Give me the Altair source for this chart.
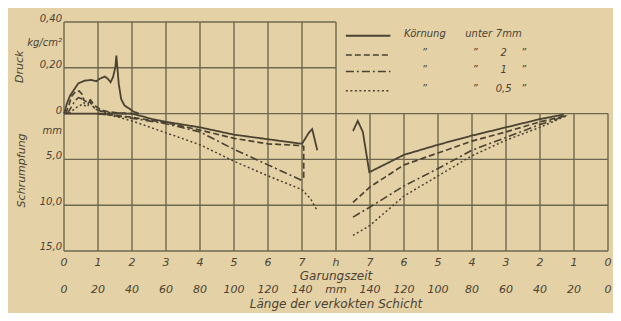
import altair as alt
import pandas as pd

# ---------------- data ----------------
# x-axis tick labels
hour_labels = ["0", "1", "2", "3", "4", "5", "6", "7", "h", "7", "6", "5", "4", "3", "2", "1", "0"]
length_labels = ["0", "20", "40", "60", "80", "100", "120", "140", "mm", "140", "120", "100", "80", "60", "40", "20", "0"]

# pressure axis (kg/cm2) and shrinkage axis (mm)
pressure_ticks = [0.40, 0.20, 0.0]
pressure_tick_text = ["0,40", "0,20", "0"]
shrink_ticks = [5.0, 10.0, 15.0]
shrink_tick_text = ["5,0", "10,0", "15,0"]

series_names = ["7 mm", "2 mm", "1 mm", "0,5 mm"]

# Druck (kg/cm2) over Garungszeit (h)
p_t_7 = [0.0, 0.03, 0.08, 0.18, 0.42, 0.61, 0.81, 0.95, 1.05, 1.20, 1.29, 1.37, 1.44, 1.51, 1.54, 1.57, 1.61, 1.68, 1.78, 1.93, 2.02, 2.2]
p_v_7 = [0.0, 0.013, 0.042, 0.079, 0.132, 0.144, 0.147, 0.141, 0.152, 0.162, 0.152, 0.137, 0.159, 0.202, 0.253, 0.202, 0.130, 0.064, 0.035, 0.021, 0.010, 0.0]
p_t_2 = [0.05, 0.15, 0.22, 0.35, 0.45, 0.53, 0.58, 0.68, 0.78, 0.85, 0.95, 1.1, 1.3, 1.6, 2.0]
p_v_2 = [0.0, 0.04, 0.075, 0.098, 0.098, 0.085, 0.06, 0.05, 0.06, 0.045, 0.03, 0.015, 0.008, 0.003, 0.0]
p_t_1 = [0.1, 0.2, 0.32, 0.42, 0.52, 0.6, 0.7, 0.76, 0.83, 0.92, 1.1, 1.4, 1.9]
p_v_1 = [0.0, 0.025, 0.055, 0.07, 0.065, 0.045, 0.04, 0.055, 0.035, 0.02, 0.01, 0.004, 0.0]
p_t_05 = [0.15, 0.3, 0.45, 0.55, 0.68, 0.78, 0.86, 1.0, 1.3, 1.8]
p_v_05 = [0.0, 0.02, 0.035, 0.04, 0.03, 0.05, 0.03, 0.012, 0.004, 0.0]

# Schrumpfung (mm), left half: over Garungszeit (h)
sl_t_7 = [0.0, 2.0, 2.6, 3.0, 4.0, 5.0, 6.0, 7.0, 7.2, 7.3, 7.45]
sl_v_7 = [0.0, 0.0, 0.6, 0.9, 1.5, 2.3, 2.8, 3.3, 2.1, 1.7, 4.0]
sl_t_2 = [1.0, 2.0, 3.0, 4.0, 5.0, 6.0, 7.0, 7.05, 7.05]
sl_v_2 = [0.0, 0.4, 1.0, 1.8, 2.7, 3.3, 3.5, 3.6, 7.0]
sl_t_1 = [1.0, 2.0, 3.0, 4.0, 5.0, 6.0, 7.0]
sl_v_1 = [0.0, 0.5, 1.1, 2.0, 3.9, 5.6, 7.3]
sl_t_05 = [1.2, 2.0, 3.0, 4.0, 5.0, 6.0, 7.0, 7.25, 7.45]
sl_v_05 = [0.0, 0.8, 2.1, 3.4, 5.2, 6.8, 8.3, 9.3, 10.6]

# Schrumpfung (mm), right half: over remaining Garungszeit (h, counting down)
sr_t_7 = [7.5, 7.36, 7.21, 7.02, 6.0, 5.0, 4.0, 3.0, 2.0, 1.3]
sr_v_7 = [1.9, 0.8, 2.0, 6.4, 4.5, 3.4, 2.4, 1.5, 0.6, 0.1]
sr_t_2 = [7.5, 7.0, 6.0, 5.0, 4.0, 3.0, 2.0, 1.2]
sr_v_2 = [9.7, 8.0, 5.6, 4.3, 3.0, 2.0, 0.9, 0.2]
sr_t_1 = [7.5, 7.0, 6.0, 5.0, 4.0, 3.0, 2.0, 1.2]
sr_v_1 = [11.3, 10.2, 7.9, 6.0, 4.0, 2.6, 1.2, 0.2]
sr_t_05 = [7.5, 7.0, 6.0, 5.0, 4.0, 3.0, 2.0, 1.2]
sr_v_05 = [13.3, 12.2, 9.0, 6.8, 4.6, 2.9, 1.5, 0.2]

# ---------------- build tables ----------------
P_SCALE = 25.0   # 0.40 kg/cm2 -> 10 plot units above the zero line
MID = 8          # column of "h"
END = 16

rows = []
def add(name, seg, xs, ys):
    for i, (a, b) in enumerate(zip(xs, ys)):
        rows.append({"s": name, "seg": seg, "o": i, "x": a, "y": b})

curves = [
    ("p", [p_t_7, p_t_2, p_t_1, p_t_05], [p_v_7, p_v_2, p_v_1, p_v_05]),
    ("l", [sl_t_7, sl_t_2, sl_t_1, sl_t_05], [sl_v_7, sl_v_2, sl_v_1, sl_v_05]),
    ("r", [sr_t_7, sr_t_2, sr_t_1, sr_t_05], [sr_v_7, sr_v_2, sr_v_1, sr_v_05]),
]
for part, ts, vs in curves:
    for name, t, v in zip(series_names, ts, vs):
        if part == "p":
            add(name, part + name, t, [-val * P_SCALE for val in v])
        elif part == "l":
            add(name, part + name, t, v)
        else:
            add(name, part + name, [END - a for a in t], v)
lines_df = pd.DataFrame(rows)

dash_range = [[1, 0], [6, 3], [8, 3, 2, 3], [2, 2.5]]
width_range = [1.8, 1.5, 1.5, 1.6]

ink = "#4a4232"
grid_col = "#6e6850"
bg = "#e5d1a6"
font = "DejaVu Sans"

xs = alt.Scale(domain=[0, END], nice=False, zero=False)
ys = alt.Scale(domain=[-10, 15], reverse=True, nice=False, zero=False)

def X():
    return alt.X("x:Q", scale=xs, axis=None)

def Y():
    return alt.Y("y:Q", scale=ys, axis=None)

# grid
grid_rows = []
for c in range(MID + 1):
    grid_rows.append({"x": c, "x2": c, "y": -10, "y2": 0})
for yv in [-10, -5]:
    grid_rows.append({"x": 0, "x2": MID, "y": yv, "y2": yv})
for c in range(END + 1):
    grid_rows.append({"x": c, "x2": c, "y": 0, "y2": 15})
for yv in [0, 5, 10, 15]:
    grid_rows.append({"x": 0, "x2": END, "y": yv, "y2": yv})
grid = alt.Chart(pd.DataFrame(grid_rows)).mark_rule(color=grid_col, strokeWidth=1.4).encode(
    x=X(), x2="x2:Q", y=Y(), y2="y2:Q")

dash_enc = alt.StrokeDash("s:N", scale=alt.Scale(domain=series_names, range=dash_range), legend=None)
width_enc = alt.StrokeWidth("s:N", scale=alt.Scale(domain=series_names, range=width_range), legend=None)

curves_chart = alt.Chart(lines_df).mark_line(color=ink, clip=False).encode(
    x=X(), y=Y(), detail="seg:N", order="o:Q", strokeDash=dash_enc, strokeWidth=width_enc)

# legend (samples + text)
leg_y = [-8.5, -6.4, -4.6, -2.5]
leg_rows = [{"s": n, "x": 8.29, "x2": 9.6, "y": yv} for n, yv in zip(series_names, leg_y)]
legend_lines = alt.Chart(pd.DataFrame(leg_rows)).mark_rule(color=ink).encode(
    x=X(), x2="x2:Q", y=Y(), strokeDash=dash_enc, strokeWidth=width_enc)

grain_sizes = ["7mm", "2", "1", "0,5"]
leg_left = [
    {"t": "Körnung", "x": 10.0, "y": -8.7},
    {"t": "unter", "x": 11.8, "y": -8.7},
    {"t": grain_sizes[0], "x": 12.7, "y": -8.7},
]
leg_center = []
for yv, g in zip(leg_y[1:], grain_sizes[1:]):
    leg_center += [
        {"t": "\u201d", "x": 10.6, "y": yv - 0.2},
        {"t": "\u201d", "x": 12.09, "y": yv - 0.2},
        {"t": g, "x": 12.93, "y": yv - 0.2},
        {"t": "\u201d", "x": 13.52, "y": yv - 0.2},
    ]
legend_text_l = alt.Chart(pd.DataFrame(leg_left)).mark_text(
    font=font, fontStyle="italic", fontSize=10, color=ink, baseline="middle", align="left"
).encode(x=X(), y=Y(), text="t:N")
legend_text_c = alt.Chart(pd.DataFrame(leg_center)).mark_text(
    font=font, fontStyle="italic", fontSize=10, color=ink, baseline="middle", align="center"
).encode(x=X(), y=Y(), text="t:N")

# y tick labels
ytl = []
for v, t in zip(pressure_ticks, pressure_tick_text):
    ytl.append({"t": t, "x": 0, "y": -v * P_SCALE - 0.3})
ytl.append({"t": "kg/cm²", "x": 0, "y": -7.7})
ytl.append({"t": "mm", "x": 0, "y": 1.9})
for v, t in zip(shrink_ticks, shrink_tick_text):
    ytl.append({"t": t, "x": 0, "y": v - 0.4})
ytick_chart = alt.Chart(pd.DataFrame(ytl)).mark_text(
    font=font, fontStyle="italic", fontSize=10, color=ink, align="right", baseline="middle", dx=-2
).encode(x=X(), y=Y(), text="t:N")

# x tick labels (two rows)
xl = [{"t": t, "x": i, "y": 16.3} for i, t in enumerate(hour_labels)]
xl += [{"t": t, "x": i, "y": 19.25} for i, t in enumerate(length_labels)]
xtick_chart = alt.Chart(pd.DataFrame(xl)).mark_text(
    font=font, fontStyle="italic", fontSize=11, color=ink, align="center", baseline="middle"
).encode(x=X(), y=Y(), text="t:N")

titles = pd.DataFrame([
    {"t": "Garungszeit", "x": MID, "y": 17.75},
    {"t": "Länge  der  verkokten  Schicht", "x": MID, "y": 20.75},
])
title_chart = alt.Chart(titles).mark_text(
    font=font, fontStyle="italic", fontSize=12, color=ink, align="center", baseline="middle"
).encode(x=X(), y=Y(), text="t:N")

side = pd.DataFrame([
    {"t": "Druck", "x": -1.3, "y": -5.1},
    {"t": "Schrumpfung", "x": -1.25, "y": 6.2},
])
side_chart = alt.Chart(side).mark_text(
    font=font, fontStyle="italic", fontSize=11, color=ink, align="center", baseline="middle", angle=270
).encode(x=X(), y=Y(), text="t:N")

chart = alt.layer(
    grid, curves_chart, legend_lines, legend_text_l, legend_text_c, ytick_chart, xtick_chart, title_chart, side_chart
).properties(
    width=544, height=229,
    autosize=alt.AutoSizeParams(type="none"),
    padding={"left": 56, "top": 14, "right": 5, "bottom": 62},
    background=bg,
).configure_view(stroke=None)

chart.save("out.html", embed_options={"renderer": "svg", "actions": False})
